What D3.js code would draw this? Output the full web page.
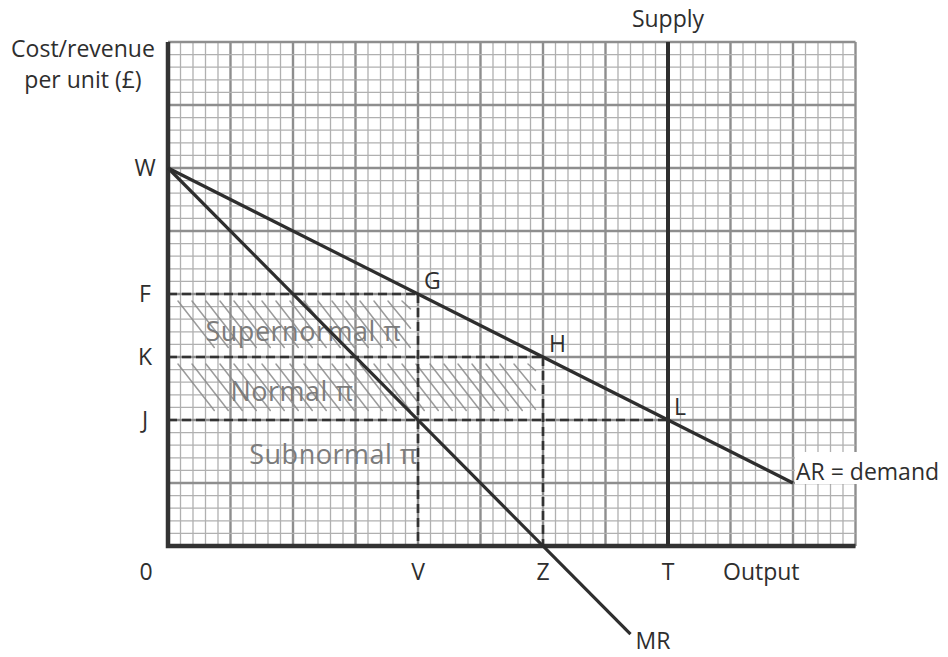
<!DOCTYPE html>
<html>
<head>
<meta charset="utf-8">
<script src="https://cdn.jsdelivr.net/npm/d3@7"></script>
<style>
  body { margin: 0; background: #fff; }
  svg text { font-family: "Open Sans", "DejaVu Sans", sans-serif; fill: #2e2e2e; }
</style>
</head>
<body>
<script>
// grid is in small squares: 55 across, 40 up
const gridCols = 55;
const gridRows = 40;

// curves (output, cost/revenue) in small squares
const arPoints = [[0, 30], [50, 5]];
const mrPoints = [[0, 30], [37, -7]];
const supplyPoints = [[40, 0], [40, 40]];

// dashed guide lines
const guideLines = [
  [[0, 20], [20, 20]],
  [[20, 20], [20, 0]],
  [[0, 15], [30, 15]],
  [[30, 15], [30, 0]],
  [[0, 10], [40, 10]]
];

const yLetters = ["W", "F", "K", "J"];
const yLetterValues = [30, 20, 15, 10];
const xLetters = ["V", "Z", "T"];
const xLetterValues = [20, 30, 40];
const pointLetters = ["G", "H", "L"];
const pointValues = [[20, 20], [30, 15], [40, 10]];

// pencil-shaded profit bands [x0, x1, yLow, yHigh]
const shadeBands = [[0.8, 19.4, 15.6, 19.6], [0.8, 29.4, 10.6, 14.6]];
const handNotes = ["Supernormal π", "Normal π", "Subnormal π"];
const handNoteValues = [[3, 16.3], [5, 11.5], [6.5, 6.5]];

const width = 948, height = 657;

const x = d3.scaleLinear().domain([0, gridCols]).range([168, 855.5]);
const y = d3.scaleLinear().domain([0, gridRows]).range([546, 42]);

const svg = d3.select("body").append("svg")
  .attr("width", width)
  .attr("height", height);

// graph paper
const grid = svg.append("g").attr("class", "grid");
grid.selectAll("line.v")
  .data(d3.range(0, gridCols + 1))
  .join("line")
  .attr("class", "v")
  .attr("x1", d => x(d)).attr("x2", d => x(d))
  .attr("y1", y(0)).attr("y2", y(gridRows))
  .attr("stroke", d => d % 5 === 0 ? "#8e8e8e" : "#b0b0b0")
  .attr("stroke-width", d => d % 5 === 0 ? 2.4 : 1.3);
grid.selectAll("line.h")
  .data(d3.range(0, gridRows + 1))
  .join("line")
  .attr("class", "h")
  .attr("x1", x(0)).attr("x2", x(gridCols))
  .attr("y1", d => y(d)).attr("y2", d => y(d))
  .attr("stroke", d => d % 5 === 0 ? "#8e8e8e" : "#b0b0b0")
  .attr("stroke-width", d => d % 5 === 0 ? 2.4 : 1.3);

// pencil shading
const shade = svg.append("g").attr("stroke", "#8a8a8a").attr("stroke-width", 1.5)
  .attr("stroke-linecap", "round").attr("opacity", 0.85);
shadeBands.forEach(([x0, x1, y0, y1]) => {
  const left = x(x0), right = x(x1), top = y(y1), bottom = y(y0);
  const h = bottom - top;
  const run = h * 0.72;
  for (let sx = left; sx < right; sx += 14) {
    const ex = Math.min(sx + run, right);
    const ey = top + (ex - sx) / run * h;
    shade.append("line")
      .attr("x1", sx).attr("y1", top + 2)
      .attr("x2", ex).attr("y2", ey - 2);
  }
});

// handwritten notes
svg.append("g").selectAll("text")
  .data(handNotes)
  .join("text")
  .attr("x", (d, i) => x(handNoteValues[i][0]))
  .attr("y", (d, i) => y(handNoteValues[i][1]))
  .attr("font-family", "Lato, sans-serif")
  .attr("font-size", 27)
  .attr("letter-spacing", 0.5)
  .style("fill", "#7c7c7c")
  .text(d => d);

// dashed guides
const line = d3.line().x(d => x(d[0])).y(d => y(d[1]));
svg.append("g").selectAll("path")
  .data(guideLines)
  .join("path")
  .attr("d", line)
  .attr("fill", "none")
  .attr("stroke", "#333")
  .attr("stroke-width", 2.6)
  .attr("stroke-dasharray", "9,5");

// axes
svg.append("path")
  .attr("d", line([[0, gridRows], [0, 0], [gridCols, 0]]))
  .attr("fill", "none")
  .attr("stroke", "#333")
  .attr("stroke-width", 4.5);

// curves
[arPoints, mrPoints].forEach(pts => {
  svg.append("path").attr("d", line(pts))
    .attr("fill", "none").attr("stroke", "#2e2e2e").attr("stroke-width", 3.2);
});
svg.append("path").attr("d", line(supplyPoints))
  .attr("fill", "none").attr("stroke", "#2e2e2e").attr("stroke-width", 4);

// text
const fs = 23;
const txt = svg.append("g").attr("font-size", fs);

txt.append("text").attr("x", 83).attr("y", 57).attr("text-anchor", "middle").text("Cost/revenue");
txt.append("text").attr("x", 83).attr("y", 88).attr("text-anchor", "middle").text("per unit (£)");
txt.append("text").attr("x", x(40)).attr("y", 27).attr("text-anchor", "middle").text("Supply");

txt.selectAll("text.yl")
  .data(yLetters)
  .join("text")
  .attr("class", "yl")
  .attr("x", x(0) - 23)
  .attr("y", (d, i) => y(yLetterValues[i]) + 8)
  .attr("text-anchor", "middle")
  .text(d => d);

txt.append("text").attr("x", x(0) - 22).attr("y", 580).attr("text-anchor", "middle").text("0");
txt.selectAll("text.xl")
  .data(xLetters)
  .join("text")
  .attr("class", "xl")
  .attr("x", (d, i) => x(xLetterValues[i]))
  .attr("y", 580)
  .attr("text-anchor", "middle")
  .text(d => d);
txt.append("text").attr("x", 723).attr("y", 580).text("Output");

txt.selectAll("text.pl")
  .data(pointLetters)
  .join("text")
  .attr("class", "pl")
  .attr("x", (d, i) => x(pointValues[i][0]) + 6)
  .attr("y", (d, i) => y(pointValues[i][1]) - 5)
  .text(d => d);

// AR label sits on a white patch over the grid
const arEnd = arPoints[arPoints.length - 1];
svg.append("rect")
  .attr("x", x(arEnd[0]) + 2).attr("y", y(arEnd[1]) - 31)
  .attr("width", 155).attr("height", 32)
  .attr("fill", "#fff");
svg.append("text")
  .attr("x", x(arEnd[0]) + 3).attr("y", y(arEnd[1]) - 3)
  .attr("font-size", fs)
  .text("AR = demand");

const mrEnd = mrPoints[mrPoints.length - 1];
svg.append("text")
  .attr("x", x(mrEnd[0]) + 5).attr("y", y(mrEnd[1]) + 15)
  .attr("font-size", fs)
  .text("MR");
</script>
</body>
</html>
